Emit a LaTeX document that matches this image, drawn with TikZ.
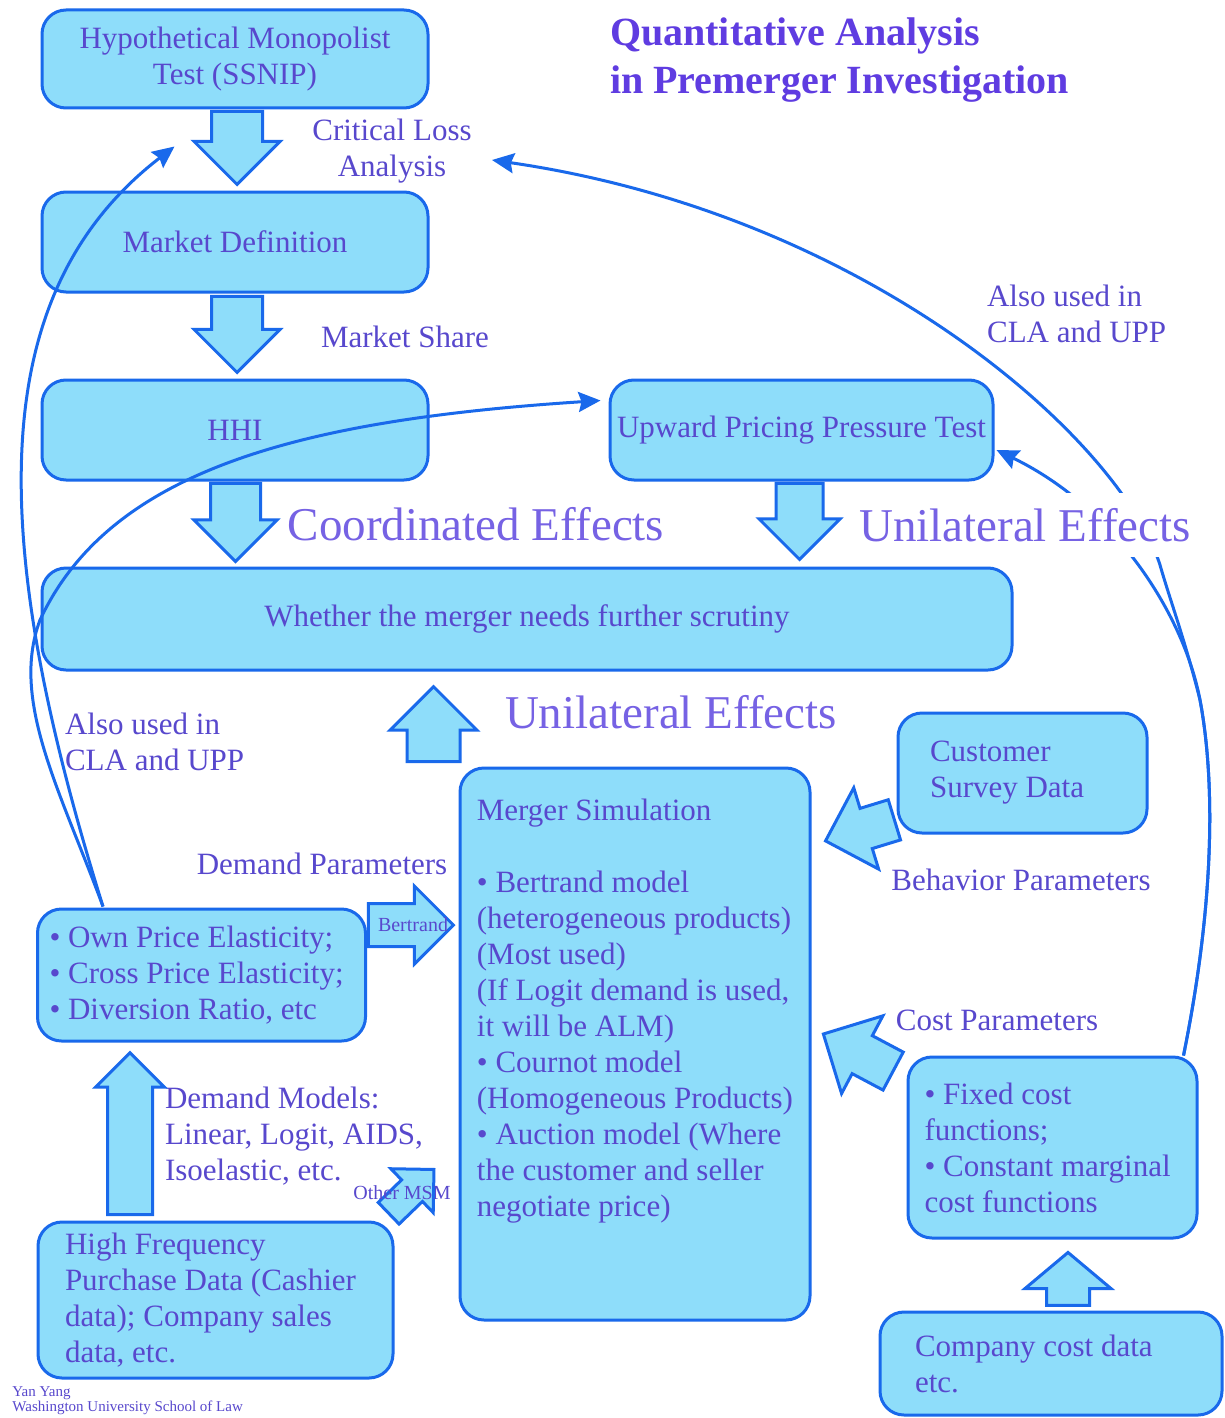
\documentclass[tikz,border=0pt]{standalone}
\usepackage{fontspec}
\setmainfont{Liberation Serif}
\usepackage{tikz}
\usetikzlibrary{arrows.meta,positioning,calc,shapes.arrows}
\definecolor{edge}{RGB}{25,105,235}
\definecolor{skyfill}{RGB}{142,221,250}
\definecolor{ink}{RGB}{88,72,205}
\definecolor{inklight}{RGB}{118,98,228}
\definecolor{titleink}{RGB}{95,60,225}
\newcommand{\bodyfont}{\fontsize{15.5}{18}\selectfont}
\tikzstyle{box} = [draw=edge, fill=skyfill, line width=1.5pt, rounded corners=12pt, text=ink, font=\bodyfont, align=center]
\tikzstyle{leftbox} = [box, align=flush left]
\tikzstyle{fat} = [single arrow, draw=edge, fill=skyfill, line width=1.5pt, inner sep=0pt, anchor=tip]
\tikzstyle{link} = [line width=1.5pt, draw=edge, ->, >={Stealth[length=11pt,width=10pt,inset=1.5pt]}]
\tikzstyle{note} = [text=ink, font=\bodyfont, align=center]
\tikzstyle{effect} = [text=inklight, font=\fontsize{23.5}{28}\selectfont]
\tikzstyle{tiny} = [text=ink, font=\fontsize{10}{11}\selectfont, inner sep=0pt]

\begin{document}
\begin{tikzpicture}[x=0.5pt, y=-0.5pt]
\path[fill=white, use as bounding box] (0,0) rectangle (1225,1418);

% boxes
\node[box, minimum width=193pt, minimum height=49pt] (hmt) at (235,59) {Hypothetical Monopolist\\Test (SSNIP)};
\node[box, minimum width=193pt, minimum height=50pt] (mktdef) at (235,242) {Market Definition};
\node[box, minimum width=193pt, minimum height=50pt] (hhi) at (235,430) {HHI};
\node[box, minimum width=191.5pt, minimum height=50pt] (upp) at (801.5,430) {Upward Pricing Pressure Test};
\node[box, minimum width=485pt, minimum height=51pt] (scrutiny) at (527,619) {Whether the merger needs further scrutiny};
\node[box, minimum width=175pt, minimum height=276pt] (sim) at (635,1044) {};
\node[note, align=flush left, anchor=north west, inner sep=0pt] (simtext) at ($(sim.north west)+(18,32)$)
  {Merger Simulation\\[18pt]• Bertrand model\\(heterogeneous products)\\(Most used)\\(If Logit demand is used,\\it will be ALM)\\• Cournot model\\(Homogeneous Products)\\• Auction model (Where\\the customer and seller\\negotiate price)};
\node[leftbox, text width=92.5pt, inner xsep=16pt, minimum height=60pt] (survey) at (1022.5,773) {Customer\\Survey Data};
\node[leftbox, text width=152pt, inner xsep=6pt, minimum height=66pt] (elast) at (201.5,975) {• Own Price Elasticity;\\• Cross Price Elasticity;\\• Diversion Ratio, etc};
\node[leftbox, text width=150.5pt, inner xsep=13.5pt, minimum height=78pt] (hfpd) at (215.5,1300) {High Frequency\\Purchase Data (Cashier\\data); Company sales\\data, etc.};
\node[leftbox, text width=128pt, inner xsep=8.25pt, minimum height=90.5pt] (cost) at (1052.5,1147.5) {• Fixed cost\\functions;\\• Constant marginal\\cost functions};
\node[leftbox, text width=136pt, inner xsep=17.5pt, minimum height=51.5pt] (codata) at (1051,1363.5) {Company cost data\\etc.};

% labels
\node[text=titleink, font=\fontsize{20}{24}\selectfont\bfseries, align=flush left, anchor=west] (title) at (603,60) {Quantitative Analysis\\in Premerger Investigation};
\node[note] (cla) at (392,151) {Critical Loss\\Analysis};
\node[note] (share) at (405,337) {Market Share};
\node[effect] (coord) at (476,524) {Coordinated Effects};
\node[effect] (unimid) at (671,712) {Unilateral Effects};
\node[note, align=flush left, anchor=west] (alsoleft) at (58,742) {Also used in\\CLA and UPP};
\node[note, align=flush left, anchor=west] (alsoright) at (980,314) {Also used in\\CLA and UPP};
\node[note] (dempar) at (322,864) {Demand Parameters};
\node[note] (behpar) at (1021,880) {Behavior Parameters};
\node[note] (costpar) at (997,1020) {Cost Parameters};
\node[note, align=flush left, anchor=west] (demmod) at (158,1136) {Demand Models:\\Linear, Logit, AIDS,\\Isoelastic, etc.};
\node[text=ink, font=\fontsize{7.5}{8}\selectfont, anchor=west, inner sep=0pt] (author) at (12,1393) {Yan Yang};
\node[text=ink, font=\fontsize{7.5}{8}\selectfont, anchor=west, inner sep=0pt] (school) at (12,1408) {Washington University School of Law};

% block arrows
\node[fat, rotate=-90, minimum height=36.5pt, single arrow head extend=8.75pt] (a1) at ($(mktdef.north)+(2,-4)$) {\rule{0pt}{24pt}};
\node[fat, rotate=-90, minimum height=38pt, single arrow head extend=8.75pt] (a2) at ($(hhi.north)+(2,-4)$) {\rule{0pt}{24pt}};
\node[fat, rotate=-90, minimum height=39pt, single arrow head extend=8.25pt] (a3) at ($(scrutiny.north west)+(195,-3)$) {\rule{0pt}{23.5pt}};
\node[fat, rotate=-90, minimum height=38pt, single arrow head extend=8.5pt] (a4) at ($(scrutiny.north west)+(759,-5)$) {\rule{0pt}{22pt}};
\node[fat, rotate=90, minimum height=37.5pt, single arrow head extend=8.5pt] (a5) at ($(scrutiny.south west)+(393,13)$) {\rule{0pt}{25pt}};
\node[fat, minimum height=42.5pt, single arrow head extend=8.75pt] (a6) at ($(sim.west)+(-3,-119)$) {\rule{0pt}{20pt}};
\node[fat, rotate=90, minimum height=81pt, single arrow head extend=6pt] (a7) at ($(elast.south west)+(94,8)$) {\rule{0pt}{21pt}};
\node[fat, rotate=44, minimum height=31.5pt, single arrow head extend=7.75pt] (a8) at ($(sim.west)+(-23,124)$) {\rule{0pt}{13.5pt}};
\node[fat, rotate=197, minimum height=36pt, single arrow head extend=10.75pt] (a9) at ($(sim.north east)+(12,75)$) {\rule{0pt}{19.5pt}};
\node[fat, rotate=152, minimum height=39.5pt, single arrow head extend=11.25pt] (a10) at ($(sim.east)+(10,-11)$) {\rule{0pt}{20pt}};
\node[fat, rotate=90, minimum height=26.5pt, single arrow head extend=10.75pt, single arrow tip angle=100] (a11) at ($(cost.south)+(15.5,11)$) {\rule{0pt}{20pt}};
\node[tiny] (bertrand) at (413,925) {Bertrand};
\node[tiny] (othermsm) at (402,1193) {Other MSM};

% thin links
\coordinate (eltop) at ($(elast.north west)+(67,-1)$);
\coordinate (hmtend) at ($(hmt.south west)+(134,37)$);
\coordinate (uppin) at ($(upp.north west)+(-8,22)$);
\coordinate (uppout) at ($(upp.east)+(2,20)$);
\coordinate (costtop) at ($(cost.north east)+(-15,0)$);
\coordinate (bend) at (1200,700);
\coordinate (claend) at (492,160);
\draw[link] (eltop) .. controls (-5,560) and (-25,300) .. (hmtend);
\draw[link] (eltop) .. controls (60,790) and (10,700) .. (40,620) .. controls (110,470) and (300,420) .. (uppin);
\draw[link] (costtop) .. controls (1215,900) and (1215,780) .. (bend) .. controls (1185,620) and (1120,510) .. (uppout);
\draw[link] (costtop) .. controls (1215,900) and (1215,780) .. (bend) .. controls (1185,640) and (1170,600) .. (1160,565) .. controls (1120,440) and (870,215) .. (claend);

\node[effect, fill=white, inner xsep=3pt, inner ysep=7.5pt] (uniright) at (1025,525) {Unilateral Effects};
\end{tikzpicture}
\end{document}
